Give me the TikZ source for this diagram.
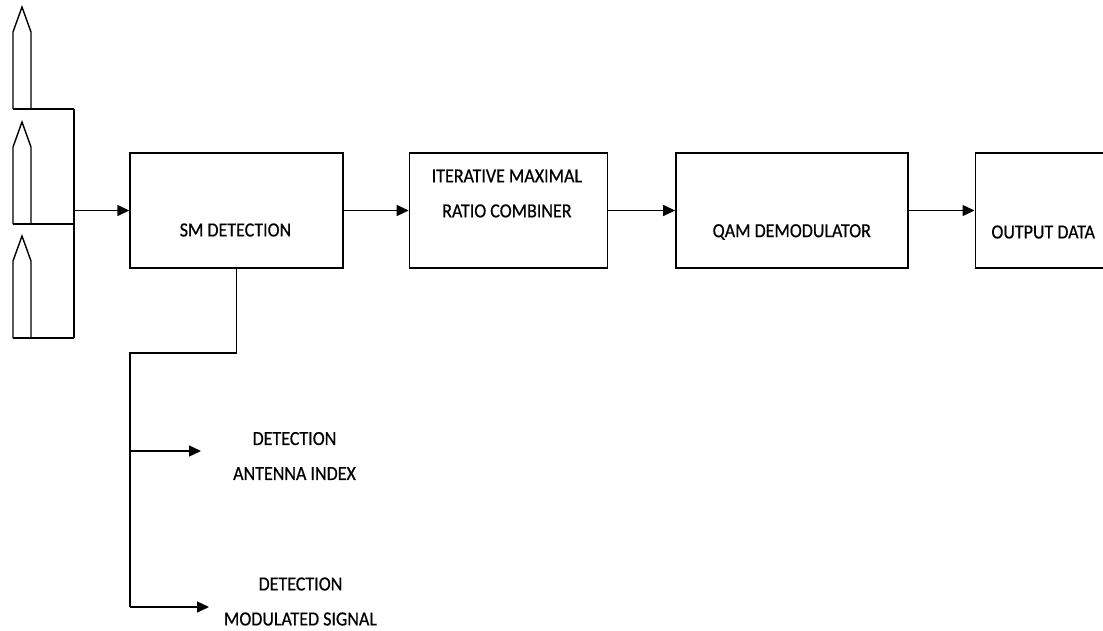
\documentclass[tikz,border=0pt]{standalone}
\usepackage{fontspec}
\setmainfont{Carlito}[FakeStretch=0.9,FakeBold=0.6]
\usetikzlibrary{arrows.meta,positioning,calc}

\begin{document}
\begin{tikzpicture}[
    x=1pt, y=-1pt,
    block/.style={draw, line width=1.4pt, minimum width=#1, minimum height=115pt, inner sep=0pt},
    block/.default=150pt,
    caption/.style={font=\fontsize{20}{35}\selectfont, align=center, inner sep=0pt},
    wire/.style={line width=1.4pt},
    flow/.style={wire, -{Triangle[length=12pt,width=11pt]}},
    node distance=65pt
]
\useasboundingbox (0,0) rectangle (1103,630);
\clip (0,0) rectangle (1103,630);

% Main chain of blocks
\node[block=213pt] (sm) at (236.5,210.5) {};
\node[block=198pt, right=65pt of sm] (mrc) {};
\node[block=232pt, right=67pt of mrc] (qam) {};
\node[block=140pt, right=66pt of qam] (out) {};

% Block texts
\node[caption] (smtext) at ($(sm.center)+(-1,19.5)$) {SM DETECTION};
\node[caption] (mrctext) at ($(mrc.center)+(-1.5,-17)$) {ITERATIVE MAXIMAL\\RATIO COMBINER};
\node[caption] (qamtext) at ($(qam.center)+(0,21.5)$) {QAM DEMODULATOR};
\node[caption] (outtext) at ($(out.center)+(-2,21.5)$) {OUTPUT DATA};

% Receive antennas
\foreach \b/\n in {109/1,224/2,338/3} {
    \draw[wire] (13,\b) -- (13,\b-77) -- (22,\b-102) -- (31,\b-77) -- (31,\b);
    \draw[wire] (13,\b) -- (74,\b);
    \coordinate (ant\n) at (74,\b);
}
\draw[wire] (ant1) -- (ant3);
\draw[flow] (ant1 |- sm.west) -- (sm.west);

% Chain connections
\draw[flow] (sm.east) -- (mrc.west);
\draw[flow] (mrc.east) -- (qam.west);
\draw[flow] (qam.east) -- (out.west);

% Detection outputs
\coordinate (corner) at (130,353);
\coordinate (indextip) at (201,451);
\coordinate (modtip) at (209,607);
\node[caption] (index) at (294.5,456) {DETECTION\\ANTENNA INDEX};
\node[caption] (modsig) at (300.5,601.5) {DETECTION\\MODULATED SIGNAL};
\draw[wire] (sm.south) |- (corner) -- (corner |- modtip);
\draw[flow] (corner |- indextip) -- (indextip);
\draw[flow] (corner |- modtip) -- (modtip);

\end{tikzpicture}
\end{document}
